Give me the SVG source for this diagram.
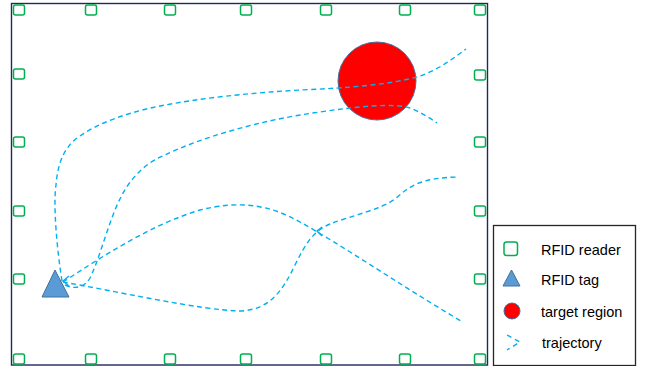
<svg xmlns="http://www.w3.org/2000/svg" width="647" height="366" viewBox="0 0 647 366">
<defs>
<style>
.rd{fill:#fff;stroke:#00B050;stroke-width:1.5}
.tr{fill:none;stroke:#00B0F0;stroke-width:1.4;stroke-dasharray:5 3.5}
.ah{fill:none;stroke:#00B0F0;stroke-width:1.4}
.tag{fill:#5B9BD5;stroke:#41719C;stroke-width:1}
.tgt{fill:#FF0000;stroke:#41719C;stroke-width:1}
.lbl{font-family:"Liberation Sans",Arial,sans-serif;font-size:14.5px;fill:#000}
</style>
</defs>
<rect width="647" height="366" fill="#fff"/>
<rect x="11.5" y="3.5" width="476" height="361.5" fill="none" stroke="#1F2A5A" stroke-width="1.4"/>
<g id="target">
<circle cx="377" cy="81" r="39" class="tgt"/>
</g>
<g id="connectors">
<path class="tr" d="M62,281 C57,250 53,205 56,185 C58,160 66,145 80,136 C100,122 130,112 160,106 C200,98 250,93 300,90 C350,88 395,84 420,76 C440,69 455,57 466,49"/>
<path class="tr" d="M65,285 C75,290 85,287 90,278 C98,262 105,235 115,210 C125,185 140,165 165,155 C200,138 260,120 320,112 C360,106 395,103 410,108 C420,112 430,118 437,123"/>
<path class="tr" d="M63,282 C100,258 150,225 200,210 C240,200 270,205 300,222 C340,244 400,285 461,321"/>
<path class="tr" d="M63,282 C120,292 200,310 240,311 C270,310 283,290 295,265 C305,245 312,232 330,224 C350,216 380,210 395,199 C410,186 420,178 458,177"/>
<path class="ah" d="M69,276 L63,281 L69,286"/>
<path class="ah" d="M322,227 L317,231 L322,236"/>
</g>
<g id="tag">
<polygon class="tag" points="55,270 42,297 69,297"/>
</g>
<g id="readers">
<rect id="r-t1" class="rd" x="13.5" y="5" width="11" height="10" rx="2"/>
<rect id="r-t2" class="rd" x="85.5" y="5" width="11" height="10" rx="2"/>
<rect id="r-t3" class="rd" x="164.5" y="5" width="11" height="10" rx="2"/>
<rect id="r-t4" class="rd" x="240.5" y="5" width="11" height="10" rx="2"/>
<rect id="r-t5" class="rd" x="320.5" y="5" width="11" height="10" rx="2"/>
<rect id="r-t6" class="rd" x="399.5" y="5" width="11" height="10" rx="2"/>
<rect id="r-t7" class="rd" x="474.5" y="5" width="11" height="10" rx="2"/>
<rect id="r-l1" class="rd" x="13.5" y="69" width="11" height="10" rx="2"/>
<rect id="r-l2" class="rd" x="13.5" y="137" width="11" height="10" rx="2"/>
<rect id="r-l3" class="rd" x="13.5" y="206" width="11" height="10" rx="2"/>
<rect id="r-l4" class="rd" x="13.5" y="274" width="11" height="10" rx="2"/>
<rect id="r-r1" class="rd" x="474.5" y="70" width="11" height="10" rx="2"/>
<rect id="r-r2" class="rd" x="474.5" y="137" width="11" height="10" rx="2"/>
<rect id="r-r3" class="rd" x="474.5" y="206" width="11" height="10" rx="2"/>
<rect id="r-r4" class="rd" x="474.5" y="274" width="11" height="10" rx="2"/>
<rect id="r-b1" class="rd" x="13.5" y="354" width="11" height="10" rx="2"/>
<rect id="r-b2" class="rd" x="85.5" y="354" width="11" height="10" rx="2"/>
<rect id="r-b3" class="rd" x="164.5" y="354" width="11" height="10" rx="2"/>
<rect id="r-b4" class="rd" x="240.5" y="354" width="11" height="10" rx="2"/>
<rect id="r-b5" class="rd" x="320.5" y="354" width="11" height="10" rx="2"/>
<rect id="r-b6" class="rd" x="399.5" y="354" width="11" height="10" rx="2"/>
<rect id="r-b7" class="rd" x="474.5" y="354" width="11" height="10" rx="2"/>
</g>
<g id="legend">
<rect x="493.5" y="225.5" width="142" height="140" fill="#fff" stroke="#262626" stroke-width="1.3"/>
<rect class="rd" x="504" y="242" width="13.5" height="13.5" rx="2.5"/>
<text class="lbl" x="541" y="255">RFID reader</text>
<polygon class="tag" points="511.5,270 503,286 520,286"/>
<text class="lbl" x="541" y="285">RFID tag</text>
<circle class="tgt" cx="512" cy="311" r="8"/>
<text class="lbl" x="541" y="317">target region</text>
<path class="tr" style="stroke-dasharray:5 4" d="M507,335 L520,342 L507,350"/>
<text class="lbl" x="542" y="348">trajectory</text>
</g>
</svg>
